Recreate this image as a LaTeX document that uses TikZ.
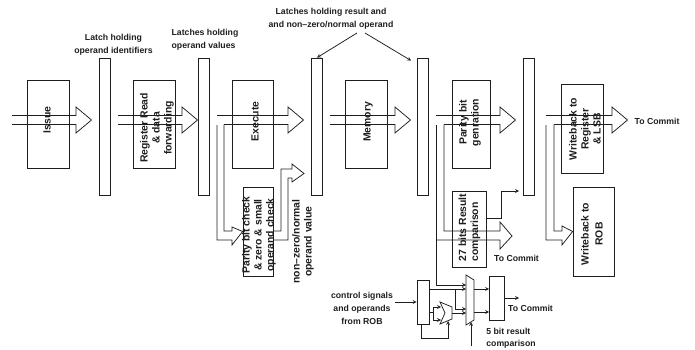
\documentclass[tikz,border=0pt]{standalone}
\usepackage{fontspec}
\setmainfont{Liberation Sans}
\usetikzlibrary{arrows,arrows.meta}
\usetikzlibrary{calc}
\definecolor{linie}{RGB}{30,30,30}
\newcommand{\blockarrow}[3]{%
	\draw (#1,115.5) -- (#3,115.5) -- (#3,107) -- ($(#3,120)+(15.5,0)$) -- (#3,133) -- (#3,124.5) -- (#2,124.5);}
\tikzset{
	stagebox/.style={draw, minimum width=#1, inner sep=0pt},
	stagebox/.default=42,
	latchbar/.style={draw, minimum width=11, minimum height=137, inner sep=0pt},
	lbl/.style={font=\bfseries\fontsize{8.7}{12}\selectfont, align=center, inner sep=0pt},
	vlbl/.style={lbl, font=\bfseries\fontsize{10.4}{12}\selectfont, rotate=90},
}
\begin{document}
\begin{tikzpicture}[x=1pt, y=-1pt, >=stealth, linie, line width=0.75pt]

	\useasboundingbox (0,0) rectangle (695,350);

	% pipeline stages
	\node[stagebox, minimum height=88] (issue) at (48,124) {};
	\node[stagebox, minimum height=88] (regread) at (154,124) {};
	\node[stagebox, minimum width=41, minimum height=88] (execute) at (252.5,124) {};
	\node[stagebox, minimum height=88] (memory) at (366,124) {};
	\node[stagebox, minimum width=38, minimum height=88] (parity) at (471,124) {};
	\node[stagebox, minimum height=89] (wbreg) at (582,128.5) {};
	\node[stagebox, minimum width=30, minimum height=89] (check) at (258,231.5) {};
	\node[stagebox, minimum width=34, minimum height=76] (cmp) at (469,229) {};
	\node[stagebox, minimum width=41, minimum height=89] (wbrob) at (593.5,231.5) {};

	\node[latchbar] (latcha) at (104.5,126.5) {};
	\node[latchbar] (latchb) at (203.5,126.5) {};
	\node[latchbar] (latchc) at (317,126.5) {};
	\node[latchbar] (latchd) at (423,126.5) {};
	\node[latchbar] (latche) at (529,126.5) {};

	\node[vlbl] (issuetxt) at (47,120) {Issue};
	\node[vlbl] (regreadtxt) at (157,128) {Register Read\\\& data\\forwarding};
	\node[vlbl] (executetxt) at (255,121.5) {Execute};
	\node[vlbl] (memorytxt) at (368,122) {Memory};
	\node[vlbl] (paritytxt) at (470,122.5) {Parity bit\\genration};
	\node[vlbl] (wbregtxt) at (585,129) {Writeback to\\Register\\\& LSB};
	\node[vlbl] (checktxt) at (259,235) {Parity bit check\\\& zero \& small\\operand check};
	\node[vlbl, align=left] (cmptxt) at (469.5,227.5) {27 bits Result\\comparison};
	\node[vlbl] (wbrobtxt) at (592,234) {Writeback to\\[2pt]ROB};
	\node[vlbl] (nonzero) at (303,241.5) {non--zero/normal\\operand value};

	% labels above the latches
	\node[lbl] (latchatxt) at (113.5,45) {Latch holding\\[1.5pt]operand identifiers};
	\node[lbl, align=left] (latchbtxt) at (205,40) {Latches holding\\[1pt]operand values};
	\node[lbl] (resulttxt) at (331,19) {Latches holding result and\\[1pt]and non--zero/normal operand};
	\node[lbl] (commita) at (657,121) {To Commit};
	\node[lbl] (commitb) at (516.5,258) {To Commit};
	\node[lbl] (commitc) at (530.5,308) {To Commit};
	\node[lbl] (ctrltxt) at (362,308.5) {control signals\\[1pt]and operands\\[1pt]from ROB};
	\node[lbl, align=left] (fivebit) at (511,338) {5 bit result\\[0pt]comparison};

	\coordinate (resulta) at (357,33);
	\coordinate (resultb) at (365,33);
	\draw[->] (resulta) -- (latchc.north);
	\draw[->] (resultb) -- ($(latchd.north west)+(-6,3)$);

	% block arrows between the latches
	\blockarrow{12}{12}{76}
	\blockarrow{118}{118}{182}
	\blockarrow{217}{224}{288}
	\blockarrow{330}{330}{395}
	\blockarrow{436}{444}{500}
	\blockarrow{546}{554}{612}

	% into the operand check
	\draw (217,125) -- (217,240) -- (232,240) -- (232,245) -- (check.west) -- (232,227) -- (232,231) -- (224,231) -- (224,124.5);
	\draw (check.east |- 0,231) -- (281,231) -- (281,169) -- (292,169) -- (292,164) -- (304,173.5) -- (292,182) -- (292,178) -- (288,178) -- (288,240) -- (check.east |- 0,240);

	% into the result comparison
	\draw (444,124.5) -- (444,231) -- (500,231) -- (500,222) -- (512,236) -- (500,249) -- (500,240) -- (436,240);
	\draw (436,125) -- (436,285);
	\coordinate (cmpbend) at (501,191);
	\draw[->] (cmp.east |- 0,218) -- (501,218) -- (cmpbend) -- (519,191);

	% into writeback to rob
	\draw (546,125) -- (546,240) -- (562,240) -- (562,245) -- (wbrob.west) -- (562,226) -- (562,231) -- (554,231) -- (554,124.5);

	% comparison of the low bits
	\node[draw, minimum width=12, minimum height=44, inner sep=0pt] (ctrlblock) at (423,302) {};
	\node[draw, minimum width=15, minimum height=44, inner sep=0pt] (outblock) at (497,298.5) {};
	\draw (466,275) -- (474,280) -- (474,320) -- (466,325) -- cycle;
	\draw (440,302) -- (452,307) -- (452,319) -- (440,324) -- (445,313) -- cycle;

	\coordinate (ctrlin) at (395,302);
	\coordinate (muxsel) at (471,346);
	\coordinate (outend) at (519,298);
	\draw[->] (ctrlin) -- (ctrlblock.west);
	\draw[->] (436,285) -- (466,285);
	\draw[->] (ctrlblock.east |- 0,289) -- (466,289);
	\draw (455,289) -- (455,309);
	\draw[->] (455,309) -- (466,309);
	\draw[->] (452,313) -- (466,313);
	\draw (ctrlblock.east |- 0,312) -- (433,312);
	\draw (433,307) -- (433,320);
	\draw[->] (433,307) -- (441,307);
	\draw[->] (433,320) -- (441,320);
	\draw[->] (421,324) -- (421,338) -- (448,338) -- (448,321);
	\draw[->] (muxsel) -- (471,322);
	\draw[->] (474,289) -- (outblock.west |- 0,289);
	\draw[->] (474,312) -- (outblock.west |- 0,312);
	\draw[->] (outblock.east |- 0,298) -- (outend);

\end{tikzpicture}
\end{document}
